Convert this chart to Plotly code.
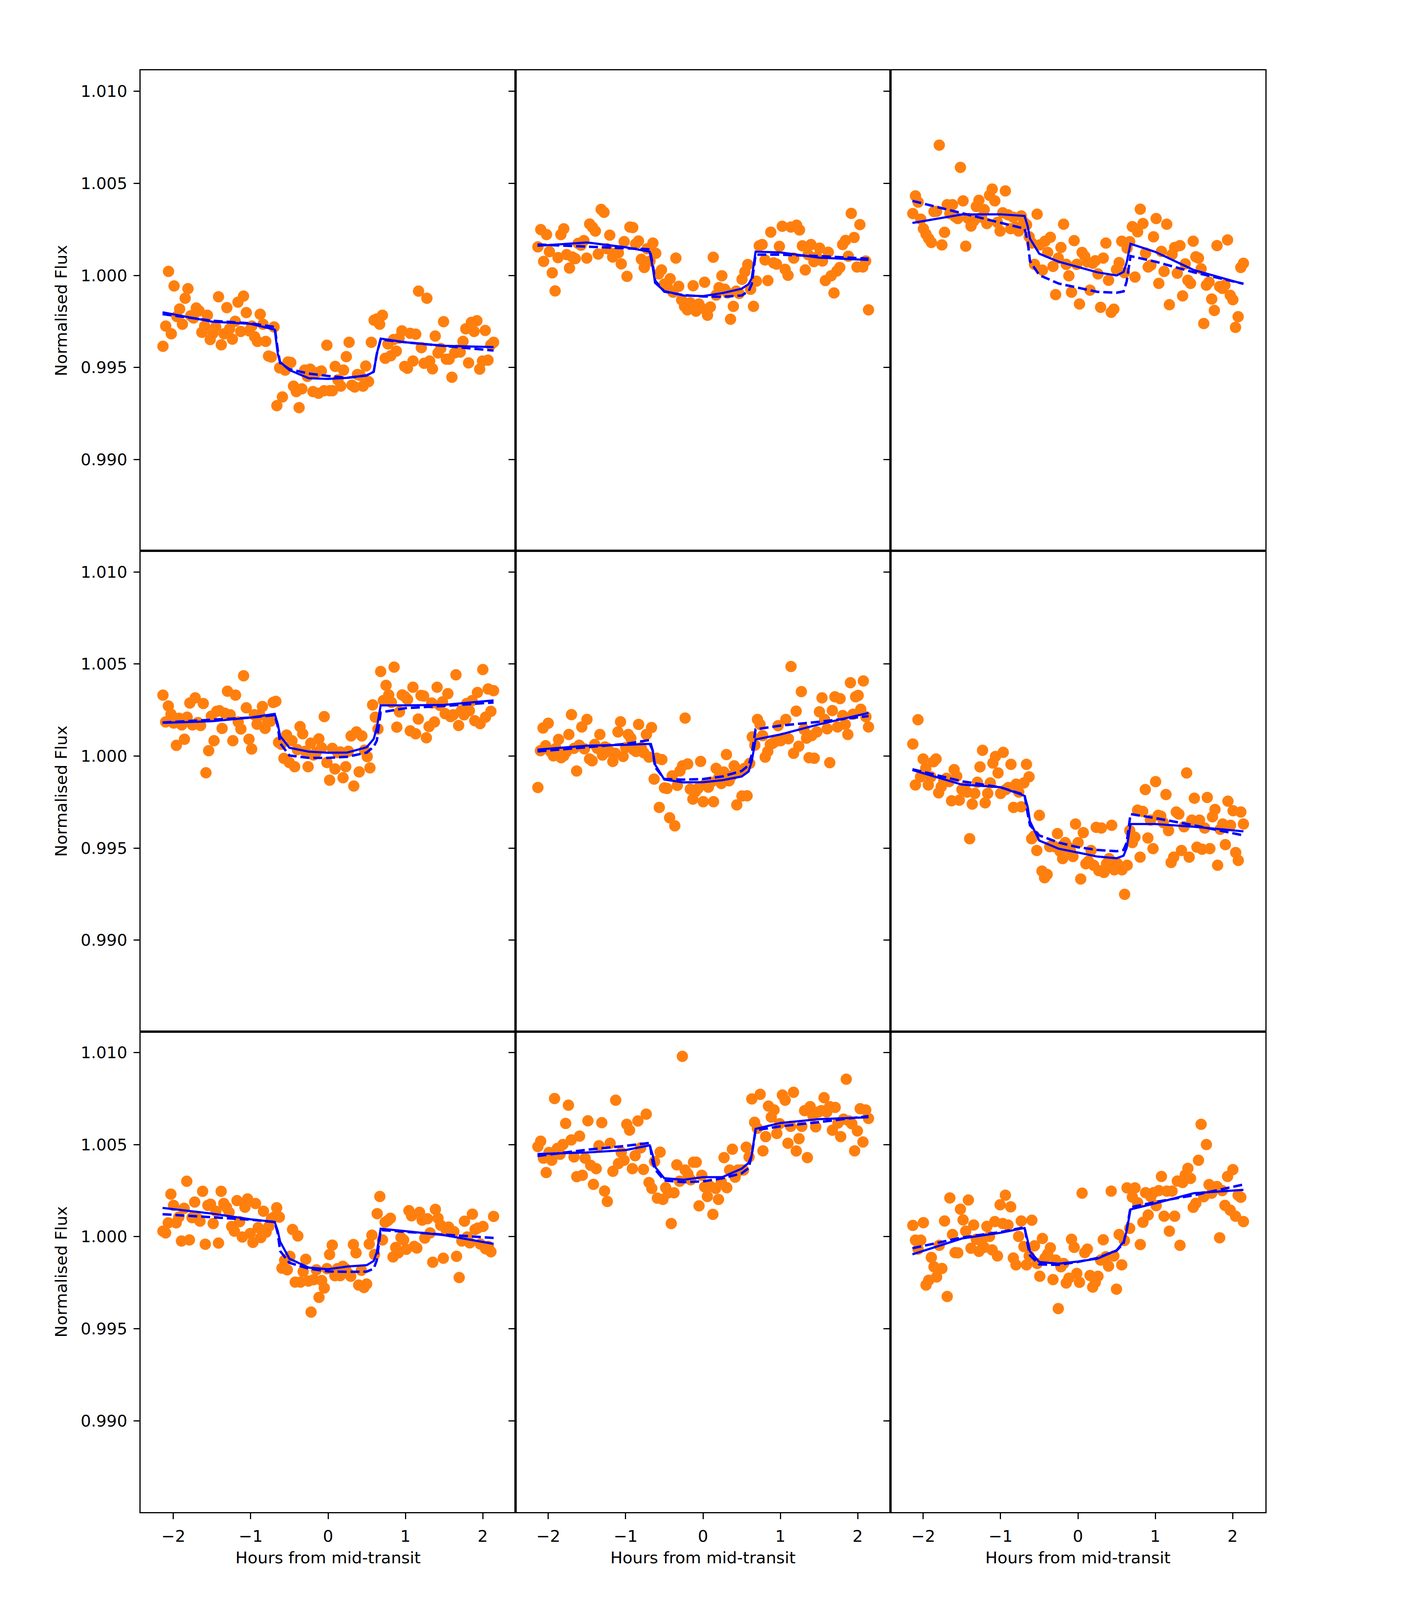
import numpy as np
import plotly.graph_objects as go
from plotly.subplots import make_subplots

# observation window in hours from mid-transit (regular cadence, same every night)
t_start, t_end = -2.135, 2.14

# normalised flux, one list per night, left to right in time
flux_1 = [0.99615, 0.99725, 1.00022, 0.99683, 0.99943, 0.99777, 0.99818, 0.99735, 0.99876, 0.99928,
          0.99781, 0.99769, 0.99823, 0.99808, 0.99691, 0.99725, 0.99784, 0.99652, 0.99686, 0.99720,
          0.99884, 0.99623, 0.99683, 0.99825, 0.99710, 0.99654, 0.99751, 0.99855, 0.99696, 0.99888,
          0.99798, 0.99699, 0.99725, 0.99667, 0.99642, 0.99789, 0.99735, 0.99642, 0.99562, 0.99557,
          0.99720, 0.99293, 0.99498, 0.99340, 0.99486, 0.99530, 0.99527, 0.99399, 0.99369, 0.99282,
          0.99384, 0.99486, 0.99452, 0.99491, 0.99369, 0.99472, 0.99360, 0.99481, 0.99374, 0.99621,
          0.99374, 0.99374, 0.99506, 0.99433, 0.99399, 0.99486, 0.99559, 0.99637, 0.99404, 0.99394,
          0.99462, 0.99457, 0.99399, 0.99508, 0.99423, 0.99637, 0.99757, 0.99764, 0.99735, 0.99784,
          0.99550, 0.99628, 0.99564, 0.99652, 0.99589, 0.99660, 0.99699, 0.99506, 0.99496, 0.99686,
          0.99535, 0.99681, 0.99915, 0.99608, 0.99523, 0.99876, 0.99535, 0.99493, 0.99671, 0.99579,
          0.99603, 0.99749, 0.99545, 0.99545, 0.99447, 0.99579, 0.99594, 0.99584, 0.99642, 0.99710,
          0.99525, 0.99745, 0.99696, 0.99754, 0.99491, 0.99535, 0.99701, 0.99540, 0.99623, 0.99637]

flux_2 = [1.00155, 1.00249, 1.00076, 1.00222, 1.00129, 1.00014, 0.99916, 1.00097, 1.00222, 1.00253,
          1.00113, 1.00040, 1.00100, 1.00091, 1.00174, 1.00164, 1.00189, 1.00094, 1.00279, 1.00262,
          1.00241, 1.00116, 1.00359, 1.00343, 1.00145, 1.00219, 1.00100, 1.00120, 1.00123, 1.00063,
          1.00184, 0.99995, 1.00263, 1.00260, 1.00171, 1.00187, 1.00088, 1.00043, 1.00145, 1.00078,
          1.00176, 1.00120, 1.00008, 1.00030, 0.99953, 0.99941, 0.99982, 0.99909, 1.00094, 0.99941,
          0.99867, 0.99832, 0.99813, 0.99851, 0.99944, 0.99806, 0.99845, 0.99822, 0.99963, 0.99784,
          0.99829, 1.00099, 0.99893, 0.99934, 0.99998, 0.99925, 0.99905, 0.99762, 0.99832, 0.99915,
          0.99902, 0.99979, 1.00020, 1.00059, 0.99925, 0.99832, 0.99969, 1.00161, 1.00168, 1.00084,
          0.99972, 1.00235, 1.00068, 1.00062, 1.00158, 1.00267, 1.00033, 1.00001, 1.00263, 1.00094,
          1.00273, 1.00247, 1.00161, 1.00030, 1.00113, 1.00168, 1.00075, 1.00100, 1.00148, 1.00078,
          0.99972, 1.00126, 0.99998, 0.99905, 1.00024, 1.00043, 1.00168, 1.00190, 1.00104, 1.00337,
          1.00206, 1.00046, 1.00276, 1.00046, 1.00078, 0.99813]

flux_3 = [1.00336, 1.00432, 1.00398, 1.00306, 1.00254, 1.00224, 1.00200, 1.00179, 1.00347, 1.00348,
          1.00708, 1.00166, 1.00234, 1.00384, 1.00336, 1.00384, 1.00319, 1.00309, 1.00587, 1.00405,
          1.00159, 1.00309, 1.00268, 1.00295, 1.00374, 1.00408, 1.00316, 1.00357, 1.00282, 1.00435,
          1.00469, 1.00405, 1.00288, 1.00241, 1.00340, 1.00459, 1.00329, 1.00254, 1.00316, 1.00261,
          1.00241, 1.00323, 1.00288, 1.00275, 1.00210, 1.00176, 1.00060, 1.00333, 1.00166, 1.00029,
          1.00186, 1.00125, 1.00207, 1.00049, 0.99896, 1.00094, 1.00152, 1.00278, 1.00060, 0.99998,
          0.99909, 1.00189, 1.00060, 0.99845, 1.00125, 1.00104, 1.00073, 0.99920, 1.00066, 1.00080,
          1.00008, 0.99827, 1.00094, 1.00176, 0.99974, 0.99800, 0.99817, 1.00032, 1.00070, 1.00186,
          1.00015, 1.00148, 1.00183, 1.00265, 0.99991, 1.00237, 1.00360, 1.00282, 1.00121, 1.00046,
          1.00056, 1.00210, 1.00309, 0.99957, 1.00131, 1.00022, 1.00278, 0.99841, 1.00114, 1.00152,
          1.00012, 1.00162, 0.99889, 1.00063, 0.99974, 0.99957, 1.00186, 1.00101, 1.00094, 1.00036,
          0.99739, 0.99947, 0.99964, 0.99872, 0.99810, 1.00162, 0.99940, 0.99930, 0.99947, 1.00193,
          0.99892, 0.99868, 0.99718, 0.99776, 1.00043, 1.00066]

flux_4 = [1.00331, 1.00185, 1.00272, 1.00227, 1.00179, 1.00058, 1.00205, 1.00169, 1.00091, 1.00211,
          1.00288, 1.00169, 1.00316, 1.00182, 1.00166, 1.00285, 0.99909, 1.00029, 1.00217, 1.00083,
          1.00243, 1.00246, 1.00150, 1.00233, 1.00352, 1.00224, 1.00083, 1.00331, 1.00185, 1.00147,
          1.00436, 1.00262, 1.00091, 1.00038, 1.00224, 1.00173, 1.00224, 1.00269, 1.00150, 1.00192,
          1.00189, 1.00291, 1.00297, 1.00074, 1.00064, 0.99987, 1.00114, 0.99965, 1.00083, 0.99942,
          1.00035, 1.00160, 1.00121, 1.00026, 0.99942, 1.00070, 1.00006, 1.00019, 1.00093, 1.00045,
          1.00214, 0.99965, 0.99869, 1.00042, 0.99930, 1.00019, 1.00022, 0.99882, 0.99942, 1.00026,
          1.00109, 0.99837, 1.00131, 0.99914, 1.00109, 1.00032, 0.99997, 0.99936, 1.00278, 1.00211,
          1.00147, 1.00459, 1.00301, 1.00384, 1.00332, 1.00291, 1.00483, 1.00157, 1.00240, 1.00332,
          1.00323, 1.00307, 1.00137, 1.00374, 1.00121, 1.00201, 1.00329, 1.00326, 1.00099, 1.00160,
          1.00288, 1.00185, 1.00374, 1.00275, 1.00294, 1.00230, 1.00339, 1.00214, 1.00224, 1.00441,
          1.00166, 1.00246, 1.00224, 1.00285, 1.00246, 1.00301, 1.00192, 1.00345, 1.00176, 1.00470,
          1.00211, 1.00364, 1.00243, 1.00355]

flux_5 = [0.99829, 1.00029, 1.00152, 1.00056, 1.00178, 1.00022, 1.00001, 1.00042, 1.00090, 0.99991,
          1.00001, 1.00022, 1.00117, 1.00225, 1.00042, 0.99919, 1.00059, 1.00158, 1.00039, 1.00199,
          0.99984, 0.99974, 1.00063, 1.00042, 1.00117, 1.00005, 1.00049, 1.00042, 1.00022, 0.99971,
          1.00015, 1.00131, 1.00186, 0.99998, 1.00046, 1.00117, 1.00097, 1.00035, 1.00025, 1.00172,
          1.00046, 1.00018, 1.00117, 0.99994, 1.00155, 0.99875, 0.99988, 0.99721, 0.99981, 0.99827,
          0.99824, 0.99665, 0.99892, 0.99621, 0.99841, 0.99919, 0.99947, 1.00206, 0.99957, 0.99820,
          0.99766, 0.99807, 0.99824, 0.99971, 0.99752, 0.99851, 0.99831, 0.99858, 0.99752, 0.99933,
          0.99882, 0.99851, 0.99913, 1.00008, 0.99865, 0.99892, 0.99947, 0.99735, 0.99913, 0.99783,
          0.99933, 0.99784, 0.99960, 1.00104, 1.00059, 1.00199, 1.00172, 1.00111, 0.99994, 1.00025,
          1.00063, 1.00070, 1.00080, 1.00165, 1.00083, 1.00097, 1.00199, 1.00094, 1.00486, 1.00015,
          1.00244, 1.00053, 1.00350, 1.00145, 1.00097, 0.99991, 1.00111, 0.99988, 1.00131, 1.00240,
          1.00316, 1.00199, 1.00148, 0.99964, 1.00247, 1.00322, 1.00158, 1.00312, 1.00220, 1.00172,
          1.00117, 1.00398, 1.00227, 1.00322, 1.00329, 1.00254, 1.00408, 1.00213, 1.00158]

flux_6 = [1.00065, 0.99843, 1.00197, 0.99887, 0.99984, 0.99933, 0.99843, 0.99887, 0.99969, 0.99984,
          0.99800, 0.99833, 0.99865, 0.99879, 0.99861, 0.99757, 0.99926, 0.99890, 0.99760, 0.99818,
          0.99829, 0.99804, 0.99551, 0.99739, 0.99797, 0.99858, 0.99941, 1.00031, 0.99746, 0.99797,
          0.99854, 0.99962, 0.99998, 0.99908, 0.99797, 1.00020, 0.99818, 0.99829, 0.99955, 0.99721,
          0.99847, 0.99804, 0.99724, 0.99854, 0.99955, 0.99887, 0.99551, 0.99566, 0.99487, 0.99678,
          0.99375, 0.99339, 0.99357, 0.99508, 0.99515, 0.99508, 0.99579, 0.99483, 0.99443, 0.99530,
          0.99508, 0.99487, 0.99454, 0.99631, 0.99530, 0.99332, 0.99584, 0.99415, 0.99429, 0.99487,
          0.99407, 0.99613, 0.99378, 0.99609, 0.99368, 0.99415, 0.99443, 0.99624, 0.99382, 0.99418,
          0.99404, 0.99382, 0.99249, 0.99407, 0.99595, 0.99530, 0.99559, 0.99706, 0.99451, 0.99699,
          0.99818, 0.99555, 0.99652, 0.99497, 0.99861, 0.99678, 0.99674, 0.99638, 0.99791, 0.99595,
          0.99422, 0.99451, 0.99696, 0.99685, 0.99487, 0.99616, 0.99908, 0.99451, 0.99652, 0.99771,
          0.99505, 0.99652, 0.99494, 0.99609, 0.99775, 0.99497, 0.99670, 0.99710, 0.99407, 0.99602,
          0.99631, 0.99519, 0.99755, 0.99624, 0.99703, 0.99476, 0.99433, 0.99696, 0.99631]

flux_7 = [1.00030, 1.00020, 1.00075, 1.00231, 1.00170, 1.00075, 1.00106, 0.99976, 1.00154, 1.00301,
          0.99982, 1.00103, 1.00188, 1.00100, 1.00084, 1.00246, 0.99959, 1.00170, 1.00176, 1.00071,
          1.00138, 0.99965, 1.00246, 1.00180, 1.00160, 1.00132, 1.00055, 1.00030, 1.00196, 1.00081,
          0.99998, 1.00160, 1.00205, 1.00017, 0.99969, 1.00180, 1.00049, 0.99995, 1.00138, 1.00024,
          1.00055, 1.00097, 1.00106, 1.00157, 1.00106, 0.99829, 0.99871, 0.99820, 0.99893, 1.00039,
          0.99753, 1.00004, 0.99753, 0.99810, 0.99877, 0.99759, 0.99590, 0.99766, 0.99820, 0.99670,
          0.99762, 0.99721, 0.99826, 0.99903, 0.99954, 0.99788, 0.99826, 0.99788, 0.99839, 0.99826,
          0.99801, 0.99785, 0.99957, 0.99912, 0.99737, 0.99817, 0.99724, 0.99743, 0.99960, 1.00008,
          0.99903, 1.00125, 1.00218, 0.99982, 1.00078, 1.00087, 1.00100, 0.99890, 0.99941, 0.99912,
          0.99995, 0.99982, 0.99931, 1.00141, 1.00113, 0.99947, 0.99938, 1.00132, 1.00090, 0.99992,
          1.00097, 1.00020, 0.99861, 1.00148, 1.00100, 1.00062, 0.99883, 1.00039, 1.00052, 1.00030,
          1.00027, 0.99893, 0.99778, 0.99976, 1.00084, 0.99998, 0.99966, 1.00122, 1.00039, 1.00046,
          0.99960, 1.00055, 0.99934, 0.99947, 0.99918, 1.00110]

flux_8 = [1.00489, 1.00518, 1.00426, 1.00348, 1.00457, 1.00415, 1.00750, 1.00479, 1.00447, 1.00500,
          1.00615, 1.00714, 1.00525, 1.00433, 1.00326, 1.00546, 1.00333, 1.00426, 1.00629, 1.00387,
          1.00284, 1.00369, 1.00494, 1.00619, 1.00248, 1.00191, 1.00507, 1.00355, 1.00741, 1.00397,
          1.00457, 1.00415, 1.00610, 1.00578, 1.00369, 1.00440, 1.00628, 1.00482, 1.00365, 1.00665,
          1.00294, 1.00262, 1.00408, 1.00209, 1.00459, 1.00202, 1.00266, 1.00238, 1.00071, 1.00238,
          1.00390, 1.00301, 1.00979, 1.00362, 1.00340, 1.00309, 1.00404, 1.00404, 1.00167, 1.00333,
          1.00270, 1.00218, 1.00273, 1.00121, 1.00262, 1.00202, 1.00298, 1.00429, 1.00266, 1.00362,
          1.00475, 1.00323, 1.00362, 1.00362, 1.00362, 1.00486, 1.00433, 1.00748, 1.00621, 1.00589,
          1.00773, 1.00466, 1.00543, 1.00709, 1.00649, 1.00688, 1.00560, 1.00613, 1.00769, 1.00741,
          1.00507, 1.00599, 1.00784, 1.00465, 1.00532, 1.00599, 1.00684, 1.00429, 1.00706, 1.00656,
          1.00596, 1.00677, 1.00684, 1.00755, 1.00677, 1.00706, 1.00578, 1.00702, 1.00617, 1.00543,
          1.00638, 1.00855, 1.00628, 1.00613, 1.00466, 1.00574, 1.00695, 1.00514, 1.00688, 1.00642]

flux_9 = [1.00061, 0.99981, 0.99932, 0.99981, 1.00076, 0.99737, 0.99763, 0.99887, 0.99836, 0.99781,
          0.99953, 0.99827, 1.00085, 0.99675, 1.00210, 1.00012, 0.99913, 0.99912, 1.00149, 1.00091,
          1.00030, 1.00199, 0.99937, 1.00063, 0.99986, 0.99920, 0.99972, 0.99942, 1.00056, 1.00001,
          0.99928, 1.00082, 0.99895, 1.00173, 1.00071, 1.00225, 1.00063, 1.00162, 0.99884, 0.99847,
          1.00001, 1.00085, 0.99946, 0.99847, 0.99895, 1.00089, 0.99950, 0.99854, 0.99785, 0.99990,
          0.99884, 0.99906, 0.99939, 0.99767, 0.99873, 0.99609, 0.99836, 0.99854, 0.99748, 0.99774,
          0.99986, 0.99942, 0.99800, 0.99752, 1.00236, 0.99913, 0.99932, 0.99789, 0.99726, 0.99752,
          0.99785, 0.99873, 0.99983, 0.99891, 0.99840, 1.00247, 0.99895, 0.99715, 1.00012, 0.99847,
          0.99979, 1.00265, 1.00045, 1.00215, 1.00265, 1.00184, 0.99957, 1.00078, 1.00239, 1.00118,
          1.00217, 1.00239, 1.00168, 1.00250, 1.00327, 1.00111, 1.00247, 1.00030, 1.00247, 1.00111,
          1.00302, 0.99953, 1.00294, 1.00335, 1.00371, 1.00316, 1.00159, 1.00181, 1.00415, 1.00610,
          1.00217, 1.00500, 1.00283, 1.00236, 1.00269, 1.00272, 0.99994, 1.00250, 1.00170, 1.00327,
          1.00144, 1.00364, 1.00111, 1.00225, 1.00214, 1.00082]

# model curves, read at these times
model_t = [-2.14, -1.5, -1.0, -0.69, -0.65, -0.62, -0.5, -0.25, 0.0,
           0.25, 0.5, 0.59, 0.63, 0.68, 1.0, 1.5, 2.14]

solid_1 = [0.99800, 0.99749, 0.99737, 0.99706, 0.99574, 0.99530, 0.99486, 0.99442, 0.99438,
           0.99444, 0.99457, 0.99477, 0.99574, 0.99657, 0.99637, 0.99618, 0.99611]
dashed_1 = [0.99790, 0.99754, 0.99740, 0.99720, 0.99594, 0.99525, 0.99491, 0.99467, 0.99454,
            0.99444, 0.99457, 0.99477, 0.99574, 0.99652, 0.99637, 0.99618, 0.99592]
solid_2 = [1.00161, 1.00179, 1.00153, 1.00129, 1.00043, 0.99960, 0.99915, 0.99891, 0.99888,
           0.99904, 0.99928, 0.99953, 0.99985, 1.00129, 1.00125, 1.00097, 1.00084]
dashed_2 = [1.00168, 1.00157, 1.00150, 1.00142, 1.00062, 0.99972, 0.99912, 0.99893, 0.99886,
            0.99884, 0.99891, 0.99915, 0.99953, 1.00113, 1.00113, 1.00105, 1.00091]
solid_3 = [1.00285, 1.00331, 1.00332, 1.00323, 1.00268, 1.00200, 1.00118, 1.00075, 1.00046,
           1.00017, 1.00000, 1.00019, 1.00070, 1.00172, 1.00128, 1.00029, 0.99954]
dashed_3 = [1.00405, 1.00340, 1.00286, 1.00254, 1.00186, 1.00077, 1.00002, 0.99956, 0.99933,
            0.99911, 0.99906, 0.99913, 0.99967, 1.00105, 1.00075, 1.00017, 0.99955]
solid_4 = [1.00180, 1.00189, 1.00209, 1.00229, 1.00173, 1.00109, 1.00045, 1.00024, 1.00018,
           1.00019, 1.00048, 1.00093, 1.00153, 1.00275, 1.00275, 1.00278, 1.00302]
dashed_4 = [1.00182, 1.00196, 1.00209, 1.00222, 1.00160, 1.00070, 1.00003, 0.99990, 0.99990,
            0.99996, 1.00019, 1.00051, 1.00083, 1.00237, 1.00260, 1.00272, 1.00291]
solid_5 = [1.00035, 1.00056, 1.00061, 1.00066, 1.00029, 0.99954, 0.99872, 0.99857, 0.99858,
           0.99869, 0.99889, 0.99916, 0.99971, 1.00090, 1.00117, 1.00172, 1.00234]
dashed_5 = [1.00025, 1.00049, 1.00066, 1.00087, 1.00029, 0.99940, 0.99875, 0.99872, 0.99875,
            0.99889, 0.99919, 0.99950, 1.00008, 1.00145, 1.00165, 1.00186, 1.00217]
solid_6 = [0.99924, 0.99845, 0.99831, 0.99784, 0.99724, 0.99645, 0.99541, 0.99497, 0.99476,
           0.99454, 0.99445, 0.99459, 0.99501, 0.99631, 0.99631, 0.99616, 0.99591]
dashed_6 = [0.99928, 0.99863, 0.99830, 0.99789, 0.99688, 0.99624, 0.99569, 0.99530, 0.99505,
            0.99490, 0.99483, 0.99490, 0.99530, 0.99685, 0.99663, 0.99624, 0.99569]
solid_7 = [1.00156, 1.00125, 1.00094, 1.00080, 1.00030, 0.99973, 0.99880, 0.99832, 0.99823,
           0.99838, 0.99845, 0.99868, 0.99915, 1.00043, 1.00030, 1.00008, 0.99961]
dashed_7 = [1.00122, 1.00105, 1.00092, 1.00079, 1.00017, 0.99922, 0.99858, 0.99826, 0.99811,
            0.99809, 0.99810, 0.99826, 0.99871, 1.00036, 1.00025, 1.00011, 0.99993]
solid_8 = [1.00449, 1.00457, 1.00470, 1.00496, 1.00443, 1.00379, 1.00317, 1.00309, 1.00323,
           1.00323, 1.00369, 1.00401, 1.00443, 1.00585, 1.00617, 1.00638, 1.00648]
dashed_8 = [1.00438, 1.00472, 1.00493, 1.00509, 1.00401, 1.00365, 1.00305, 1.00296, 1.00300,
            1.00317, 1.00344, 1.00372, 1.00443, 1.00578, 1.00599, 1.00622, 1.00655]
solid_9 = [0.99904, 0.99990, 1.00021, 1.00047, 0.99979, 0.99920, 0.99862, 0.99853, 0.99865,
           0.99880, 0.99926, 0.99972, 1.00030, 1.00148, 1.00181, 1.00236, 1.00254]
dashed_9 = [0.99937, 0.99995, 1.00025, 1.00051, 0.99957, 0.99898, 0.99849, 0.99847, 0.99863,
            0.99884, 0.99924, 0.99964, 1.00038, 1.00159, 1.00188, 1.00225, 1.00283]

x_ticks = [-2, -1, 0, 1, 2]
y_ticks = [0.990, 0.995, 1.000, 1.005, 1.010]

fluxes = [flux_1, flux_2, flux_3, flux_4, flux_5, flux_6, flux_7, flux_8, flux_9]
solids = [solid_1, solid_2, solid_3, solid_4, solid_5, solid_6, solid_7, solid_8, solid_9]
dasheds = [dashed_1, dashed_2, dashed_3, dashed_4, dashed_5, dashed_6, dashed_7, dashed_8, dashed_9]

FONT = dict(family="DejaVu Sans", size=41.7, color="black")

fig = make_subplots(rows=3, cols=3, shared_xaxes=True, shared_yaxes=True,
                    horizontal_spacing=0, vertical_spacing=0)

for i in range(9):
    r, c = i // 3 + 1, i % 3 + 1
    t = np.linspace(t_start, t_end, len(fluxes[i]))
    fig.add_trace(go.Scatter(x=t, y=fluxes[i], mode="markers",
                             marker=dict(color="#ff7f0e", size=29)), row=r, col=c)
    fig.add_trace(go.Scatter(x=model_t, y=solids[i], mode="lines",
                             line=dict(color="blue", width=5.5)), row=r, col=c)
    fig.add_trace(go.Scatter(x=model_t, y=dasheds[i], mode="lines",
                             line=dict(color="blue", width=6.25, dash="23px,10px")), row=r, col=c)

axis_style = dict(showline=True, mirror=True, linecolor="black", linewidth=3.3,
                  showgrid=False, zeroline=False, ticks="outside", ticklen=14.6,
                  tickwidth=3.3, tickcolor="black", tickfont=FONT, ticklabelstandoff=8)

fig.update_xaxes(range=[-2.424, 2.424], tickvals=x_ticks, **axis_style)
fig.update_yaxes(range=[0.98504, 1.01114], tickvals=y_ticks, tickformat=".3f", **axis_style)

# upper rows: their outward x ticks are covered by the panel below
for r in (1, 2):
    for c in (1, 2, 3):
        fig.update_xaxes(ticks="", row=r, col=c)

for c in (1, 2, 3):
    fig.update_xaxes(title=dict(text="Hours from mid-transit", font=FONT, standoff=18), row=3, col=c)
for r in (1, 2, 3):
    fig.update_yaxes(title=dict(text="Normalised Flux", font=FONT, standoff=22), row=r, col=1)

# size follows the browser window so the whole figure is in view
fig.update_layout(autosize=True, showlegend=False,
                  margin=dict(l=360, r=360, t=180, b=225),
                  paper_bgcolor="white", plot_bgcolor="white",
                  font=dict(family="DejaVu Sans"))

fig.write_html("out.html", default_width="100vw", default_height="100vh",
               config={"responsive": True, "displayModeBar": False},
               post_script="document.body.style.margin='0';document.body.style.overflow='hidden';")
